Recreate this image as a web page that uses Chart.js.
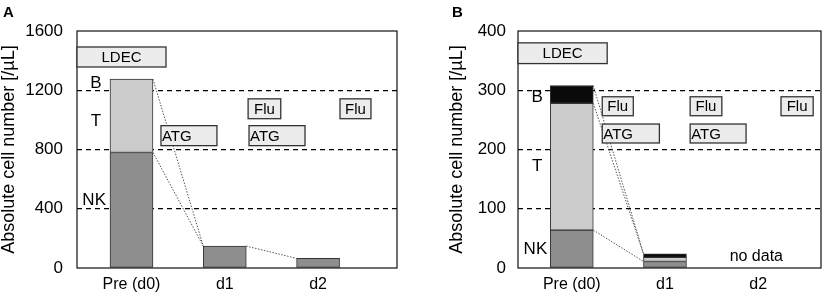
<!DOCTYPE html>
<html lang="en">
<head>
<meta charset="UTF-8">
<title>Absolute cell number</title>
<script src="https://cdn.jsdelivr.net/npm/chart.js"></script>
<style>
  body { margin: 0; background: #fff; }
  .panel { position: absolute; top: 0; height: 300px; }
  #panelA { left: 0; width: 415px; }
  #panelB { left: 415px; width: 414px; }
  .tag { position: absolute; top: 3px; font: bold 15px "Liberation Sans", Arial, sans-serif; }
</style>
</head>
<body>
<div class="panel" id="panelA"><canvas id="chartA"></canvas></div>
<div class="panel" id="panelB"><canvas id="chartB"></canvas></div>
<div class="tag" style="left:3px">A</div>
<div class="tag" style="left:452px">B</div>

<script>
const categories = ['Pre (d0)', 'd1', 'd2'];

// panel A: NK and T cells
const nkA = [780, 148, 65];
const tA = [495, null, null];
const ticksA = [0, 400, 800, 1200, 1600];

// panel B: NK, T and B cells
const nkB = [64, 11, null];
const tB = [214, 7, null];
const bB = [30, 6, null];
const ticksB = [0, 100, 200, 300, 400];

const FONT = '"Liberation Sans", Arial, sans-serif';
const colors = { NK: '#8e8e8e', T: '#cbcbcb', B: '#0a0a0a' };

// treatment boxes, in axis units
const boxesA = [
  { text: 'LDEC', x0: -0.584, x1: 0.37, y0: 1357, y1: 1492, align: 'center' },
  { text: 'Flu', x0: 1.25, x1: 1.60, y0: 1008, y1: 1142, align: 'center' },
  { text: 'Flu', x0: 2.235, x1: 2.567, y0: 1008, y1: 1142, align: 'center' },
  { text: 'ATG', x0: 0.316, x1: 0.916, y0: 826, y1: 961, align: 'left' },
  { text: 'ATG', x0: 1.26, x1: 1.86, y0: 826, y1: 961, align: 'left' }
];
const boxesB = [
  { text: 'LDEC', x0: -0.577, x1: 0.38, y0: 345, y1: 380, align: 'center' },
  { text: 'Flu', x0: 0.327, x1: 0.66, y0: 257, y1: 289, align: 'center' },
  { text: 'Flu', x0: 1.27, x1: 1.61, y0: 257, y1: 289, align: 'center' },
  { text: 'Flu', x0: 2.245, x1: 2.59, y0: 257, y1: 289, align: 'center' },
  { text: 'ATG', x0: 0.327, x1: 0.94, y0: 211, y1: 243, align: 'left' },
  { text: 'ATG', x0: 1.27, x1: 1.87, y0: 211, y1: 243, align: 'left' }
];
const labelsA = [
  { text: 'B', x: -0.38, y: 1250 },
  { text: 'T', x: -0.38, y: 988 },
  { text: 'NK', x: -0.40, y: 457 }
];
const labelsB = [
  { text: 'B', x: -0.37, y: 288 },
  { text: 'T', x: -0.37, y: 172 },
  { text: 'NK', x: -0.39, y: 31 },
  { text: 'no data', x: 1.98, y: 20 }
];

// dotted links: [dataset, bar] -> [dataset, bar], right edge to left edge
const linksA = [[1, 0, 0, 1], [0, 0, 0, 1], [0, 1, 0, 2]];
const linksB = [[2, 0, 2, 1], [1, 0, 2, 1], [0, 0, 0, 1]];

const linkPlugin = {
  id: 'links',
  afterDatasetsDraw(chart, args, opts) {
    const ctx = chart.ctx;
    ctx.save();
    ctx.strokeStyle = '#555';
    ctx.lineWidth = 1;
    ctx.setLineDash([1.5, 1.5]);
    opts.links.forEach(([d1, i1, d2, i2]) => {
      const a = chart.getDatasetMeta(d1).data[i1];
      const b = chart.getDatasetMeta(d2).data[i2];
      ctx.beginPath();
      ctx.moveTo(a.x + a.width / 2, a.y);
      ctx.lineTo(b.x - b.width / 2, b.y);
      ctx.stroke();
    });
    ctx.restore();
  }
};

const notePlugin = {
  id: 'notes',
  afterDraw(chart, args, opts) {
    const ctx = chart.ctx, x = chart.scales.x, y = chart.scales.y, area = chart.chartArea;
    ctx.save();
    // frame
    ctx.strokeStyle = '#111';
    ctx.lineWidth = 1.2;
    ctx.strokeRect(area.left, area.top, area.right - area.left, area.bottom - area.top);
    // boxes
    ctx.font = '15px ' + FONT;
    ctx.textBaseline = 'middle';
    opts.boxes.forEach(b => {
      const l = x.getPixelForValue(b.x0), r = x.getPixelForValue(b.x1);
      const t = y.getPixelForValue(b.y1), bt = y.getPixelForValue(b.y0);
      ctx.fillStyle = '#ececec';
      ctx.fillRect(l, t, r - l, bt - t);
      ctx.strokeStyle = '#333';
      ctx.lineWidth = 1.3;
      ctx.strokeRect(l, t, r - l, bt - t);
      ctx.fillStyle = '#000';
      ctx.textAlign = b.align;
      ctx.fillText(b.text, b.align === 'left' ? l + 1 : (l + r) / 2, (t + bt) / 2 + 1);
    });
    ctx.font = '17px ' + FONT;
    ctx.textAlign = 'center';
    opts.labels.forEach(lb => {
      ctx.fillStyle = '#000';
      ctx.font = (lb.text === 'no data' ? 16 : 17) + 'px ' + FONT;
      ctx.fillText(lb.text, x.getPixelForValue(lb.x), y.getPixelForValue(lb.y));
    });
    ctx.restore();
  }
};

function makeChart(id, cfg) {
  const yMax = cfg.ticks[cfg.ticks.length - 1];
  return new Chart(document.getElementById(id), {
    type: 'bar',
    data: {
      datasets: cfg.series.map(s => ({
        label: s.label,
        data: s.values.map((v, i) => ({ x: i, y: v })),
        backgroundColor: colors[s.label],
        borderColor: '#333',
        borderWidth: 1,
        borderSkipped: false,
        barThickness: 43
      }))
    },
    options: {
      responsive: true,
      maintainAspectRatio: false,
      animation: false,
      layout: { padding: { top: 31, right: cfg.rightPad, bottom: 0, left: 0 } },
      plugins: {
        legend: { display: false },
        tooltip: { enabled: false },
        links: { links: cfg.links },
        notes: { boxes: cfg.boxes, labels: cfg.labels }
      },
      scales: {
        x: {
          type: 'linear',
          stacked: true,
          offset: false,
          min: cfg.xMin,
          max: cfg.xMax,
          grid: { display: false, drawTicks: false, offset: false },
          border: { display: false },
          afterBuildTicks: s => { s.ticks = categories.map((c, i) => ({ value: i })); },
          afterFit: s => { s.height = 32; },
          ticks: {
            padding: 7, color: '#000', autoSkip: false, maxRotation: 0,
            font: { family: FONT, size: 16 },
            callback: v => categories[v]
          }
        },
        y: {
          stacked: true,
          min: 0,
          max: yMax,
          afterBuildTicks: s => { s.ticks = cfg.ticks.map(v => ({ value: v })); },
          afterFit: s => { s.width = cfg.plotLeft; },
          grid: {
            drawTicks: false,
            lineWidth: 1.3,
            color: c => (c.tick.value === 0 || c.tick.value === yMax) ? 'rgba(0,0,0,0)' : '#000'
          },
          border: { display: false, dash: [5, 4] },
          ticks: {
            padding: cfg.tickPad, color: '#000', font: { family: FONT, size: 17 },
            callback: v => String(v)
          },
          title: {
            display: true,
            text: 'Absolute cell number [/µL]',
            color: '#000',
            font: { family: FONT, size: 18, lineHeight: 1 },
            padding: { top: cfg.titlePad, bottom: 0 }
          }
        }
      }
    },
    plugins: [linkPlugin, notePlugin]
  });
}

makeChart('chartA', {
  series: [{ label: 'NK', values: nkA }, { label: 'T', values: tA }],
  ticks: ticksA, xMin: -0.584, xMax: 2.846,
  plotLeft: 77, rightPad: 18, tickPad: 14, titlePad: 0,
  boxes: boxesA, labels: labelsA, links: linksA
});

makeChart('chartB', {
  series: [{ label: 'NK', values: nkB }, { label: 'T', values: tB }, { label: 'B', values: bB }],
  ticks: ticksB, xMin: -0.577, xMax: 2.674,
  plotLeft: 103, rightPad: 8, tickPad: 12, titlePad: 33,
  boxes: boxesB, labels: labelsB, links: linksB
});
</script>
</body>
</html>
